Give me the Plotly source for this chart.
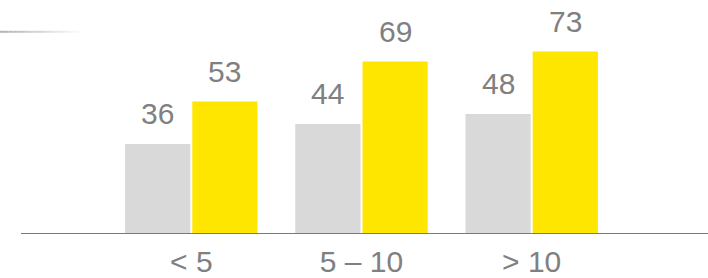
import plotly.graph_objects as go

categories = ["< 5", "5 – 10", "> 10"]
series_a = [36, 44, 48]   # grey
series_b = [53, 69, 73]   # yellow

GREY = "#d9d9d9"
YELLOW = "#ffe600"
TEXT = "#808080"
FONT = "Liberation Sans, Arial, sans-serif"

W, H = 708, 278
fig = go.Figure()
fig.add_bar(x=categories, y=series_a, marker_color=GREY, marker_line_width=0, hoverinfo="skip")
fig.add_bar(x=categories, y=series_b, marker_color=YELLOW, marker_line_width=0, hoverinfo="skip")

annotations = []
for i, cat in enumerate(categories):
    for vals, shift in ((series_a, -33.6), (series_b, 33.6)):
        annotations.append(dict(
            x=cat, y=vals[i], xref="x", yref="y", text=str(vals[i]),
            showarrow=False, xshift=shift, yanchor="bottom", yshift=12,
            font=dict(family=FONT, size=30, color=TEXT)))

shapes = [dict(type="line", xref="paper", yref="y", x0=21 / W, x1=1, y0=0, y1=0,
               line=dict(color="#7a7a7a", width=2))]
# fading decorative rule in top-left
n = 20
for k in range(n):
    c = int(178 + (255 - 178) * k / (n - 1))
    shapes.append(dict(type="line", xref="paper", yref="paper",
                       x0=(k * 84 / n) / W, x1=((k + 1) * 84 / n) / W,
                       y0=1 - 31.8 / 234, y1=1 - 31.8 / 234,
                       line=dict(color=f"rgb({c},{c},{c})", width=2)))

fig.update_layout(
    width=W, height=H,
    margin=dict(l=0, r=0, t=0, b=44),
    barmode="group", bargap=0.21, bargroupgap=0.03,
    showlegend=False,
    plot_bgcolor="white", paper_bgcolor="white",
    annotations=annotations, shapes=shapes,
    xaxis=dict(range=[-1.124, 3.036], showgrid=False, zeroline=False, showline=False,
               ticks="", ticklabelstandoff=7, automargin=False,
               tickfont=dict(family=FONT, size=30, color=TEXT)),
    yaxis=dict(range=[0, 93.6], visible=False, automargin=False),
)
fig.write_html("out.html", config={"displayModeBar": False},
               post_script="document.body.style.margin='0';document.body.style.overflow='hidden';")
